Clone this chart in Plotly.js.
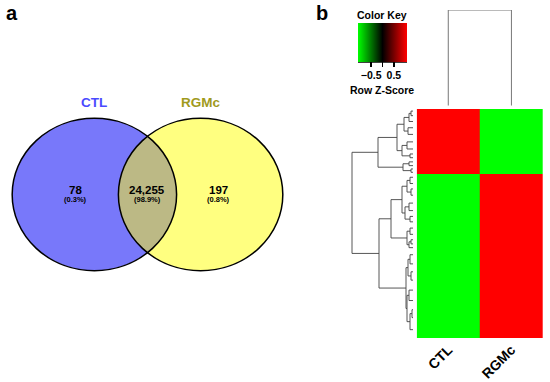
<!DOCTYPE html>
<html>
<head>
<meta charset="utf-8">
<script src="https://cdn.plot.ly/plotly-3.0.1.min.js"></script>
<style>html,body{margin:0;padding:0;background:#fff}#chart{width:550px;height:382px}</style>
</head>
<body>
<div id="chart"></div>
<script>
// ---------- DATA ----------
const setNames = ['CTL', 'RGMc'];
const vennCounts = [78, 24255, 197];          // CTL only, shared, RGMc only
const heatCols = ['CTL', 'RGMc'];
const blockRows = [78, 197];                  // rows up in CTL, rows up in RGMc
const blockZ = [[1.08, -1.08], [-1.08, 1.08]];// row z-scores of each block
const zRange = [-1.08, 1.08];
const keyTickVals = [-0.5, 0, 0.5];
const keyTickText = ['\u22120.5', '', '0.5'];
// row dendrogram: [height, left, right]; leaf = number of rows
const rowTree = [61,
  [35,
    [16, [9, [4, [2, 5, 6], 8], [5, 7, 9]], [11, [6, 9, 8], [3, 4, 5]]],
    [10, [4, 5, 4], [2, 4, 4]]
  ],
  [34,
    [22,
      [11, [6, [3, 8, 7], [2, 6, 9]], [8, [4, 10, 8], [3, 6, 7]]],
      [6, [3, 8, 7], [4, [2, 6, 4], 5]]
    ],
    [7, [5, [3, 12, 10], [2, 9, 11]], [6, [4, 13, 12], [3, [1, 10, 9], 20]]]
  ]
];
const colTreeHeight = 1;

// ---------- helpers ----------
const W = 550, H = 382;
const px = v => v / W;
const py = v => 1 - v / H;
const FONT = 'Liberation Sans, Arial, sans-serif';

// ---------- Venn geometry ----------
const d = 0.646; // half distance between centres (radius units)
const a = Math.acos(d);
const lensX = [], lensY = [];
const N = 80;
for (let i = 0; i <= N; i++) { const t = Math.PI - a + 2 * a * i / N; lensX.push(d + Math.cos(t)); lensY.push(Math.sin(t)); }
for (let i = 0; i <= N; i++) { const t = -a + 2 * a * i / N; lensX.push(-d + Math.cos(t)); lensY.push(Math.sin(t)); }

const total = vennCounts.reduce((s, v) => s + v, 0);
const pct = v => '(' + (100 * v / total).toFixed(1) + '%)';
const labelX = [-0.88, 0, 0.86];

// ---------- row dendrogram ----------
let rowStart = 0;
const dx = [], dy = [];
function walk(node) {
  if (typeof node === 'number') { const y = rowStart + node / 2; rowStart += node; return { y: y, h: 0 }; }
  const l = walk(node[1]), r = walk(node[2]), h = node[0];
  dx.push(l.h, h, h, r.h, null); dy.push(l.y, l.y, r.y, r.y, null);
  return { y: (l.y + r.y) / 2, h: h };
}
walk(rowTree);
const nRows = blockRows.reduce((s, v) => s + v, 0);
const yEdges = [0];
blockRows.forEach(n => yEdges.push(yEdges[yEdges.length - 1] + n));

const traces = [
  { type: 'scatter', x: lensX, y: lensY, xaxis: 'x', yaxis: 'y', mode: 'lines', fill: 'toself',
    fillcolor: '#bcb985', line: { width: 0 }, hoverinfo: 'skip' },
  { type: 'heatmap', x: [0, 1], y: yEdges, z: blockZ, xaxis: 'x2', yaxis: 'y2',
    zmin: zRange[0], zmax: zRange[1],
    colorscale: [[0, '#00ff00'], [0.5, '#000000'], [1, '#ff0000']],
    colorbar: { orientation: 'h', x: px(382.5), xanchor: 'center', y: py(23), yanchor: 'top',
      lenmode: 'pixels', len: 49, thicknessmode: 'pixels', thickness: 39, xpad: 0, ypad: 0,
      outlinewidth: 0, tickmode: 'array', tickvals: keyTickVals, ticktext: keyTickText,
      ticks: 'outside', ticklen: 5, tickwidth: 1.5, tickcolor: '#000',
      tickfont: { family: FONT, size: 10.5, weight: 'bold', color: '#000' }, title: { text: '' } } },
  { type: 'scatter', x: dx, y: dy, xaxis: 'x3', yaxis: 'y3', mode: 'lines',
    line: { color: '#444', width: 0.9 }, hoverinfo: 'skip' },
  { type: 'scatter', x: [0, 0, 1, 1], y: [0, colTreeHeight, colTreeHeight, 0], xaxis: 'x2', yaxis: 'y4',
    mode: 'lines', line: { color: '#777', width: 1 }, hoverinfo: 'skip' }
];

const ann = (text, x, y, xref, yref, size, color) => ({ text: text, x: x, y: y, xref: xref, yref: yref,
  xanchor: 'center', yanchor: 'middle', showarrow: false, font: { family: FONT, size: size, color: color } });
const annotations = [
  ann('<b>a</b>', px(12), py(13), 'paper', 'paper', 20, '#000'),
  ann('<b>b</b>', px(322), py(13), 'paper', 'paper', 20, '#000'),
  ann('<b>' + setNames[0] + '</b>', -d, 1.21, 'x', 'y', 13.5, '#4a4aff'),
  ann('<b>' + setNames[1] + '</b>', d, 1.21, 'x', 'y', 13.5, '#a09a1c'),
  ann('<b>Color Key</b>', px(381.5), py(15), 'paper', 'paper', 10.5, '#000'),
  ann('<b>Row Z-Score</b>', px(381.7), py(90), 'paper', 'paper', 10.5, '#000')
];
vennCounts.forEach((v, i) => {
  annotations.push(ann('<b>' + v.toLocaleString('en-US') + '</b>', labelX[i], 0.055, 'x', 'y', 11.5, '#000'));
  annotations.push(ann('<b>' + pct(v) + '</b>', labelX[i], -0.06, 'x', 'y', 7.5, '#000'));
});

const shapes = [
  { type: 'circle', xref: 'x', yref: 'y', x0: -d - 1, x1: -d + 1, y0: -1, y1: 1, fillcolor: '#7878fa', line: { width: 0 }, layer: 'below' },
  { type: 'circle', xref: 'x', yref: 'y', x0: d - 1, x1: d + 1, y0: -1, y1: 1, fillcolor: '#ffff80', line: { width: 0 }, layer: 'below' },
  { type: 'circle', xref: 'x', yref: 'y', x0: -d - 1, x1: -d + 1, y0: -1, y1: 1, line: { width: 1.5, color: '#000' } },
  { type: 'circle', xref: 'x', yref: 'y', x0: d - 1, x1: d + 1, y0: -1, y1: 1, line: { width: 1.5, color: '#000' } },
  { type: 'line', xref: 'paper', yref: 'paper', x0: px(358), x1: px(407), y0: py(62), y1: py(62), line: { width: 1.5, color: '#000' } }
];

const hid = { visible: false, fixedrange: true, showgrid: false, zeroline: false };
const layout = {
  width: W, height: H, margin: { l: 0, r: 0, t: 0, b: 0 }, showlegend: false,
  paper_bgcolor: '#fff', plot_bgcolor: 'rgba(0,0,0,0)',
  xaxis: Object.assign({}, hid, { domain: [0, px(300)], range: [-1.794, 1.855] }),
  yaxis: Object.assign({}, hid, { domain: [0, 1], range: [-2.461, 2.552] }),
  xaxis2: { domain: [px(416.7), px(543)], range: [-0.5, 1.5], anchor: 'y2', showgrid: false, zeroline: false,
    showline: false, ticks: '', tickmode: 'array', tickvals: [0, 1], ticktext: heatCols, tickangle: -45,
    tickfont: { family: FONT, size: 14, weight: 'bold', color: '#000' }, fixedrange: true },
  yaxis2: Object.assign({}, hid, { domain: [py(338), py(109)], range: [nRows, 0], anchor: 'x2' }),
  xaxis3: Object.assign({}, hid, { domain: [px(350), px(417)], range: [63, -4], anchor: 'y3' }),
  yaxis3: Object.assign({}, hid, { domain: [py(338), py(109)], range: [nRows, 0], anchor: 'x3' }),
  yaxis4: Object.assign({}, hid, { domain: [py(105.7), py(10)], range: [0, colTreeHeight], anchor: 'x2' }),
  shapes: shapes, annotations: annotations
};
Plotly.newPlot('chart', traces, layout, { displayModeBar: false, staticPlot: true });
</script>
</body>
</html>
